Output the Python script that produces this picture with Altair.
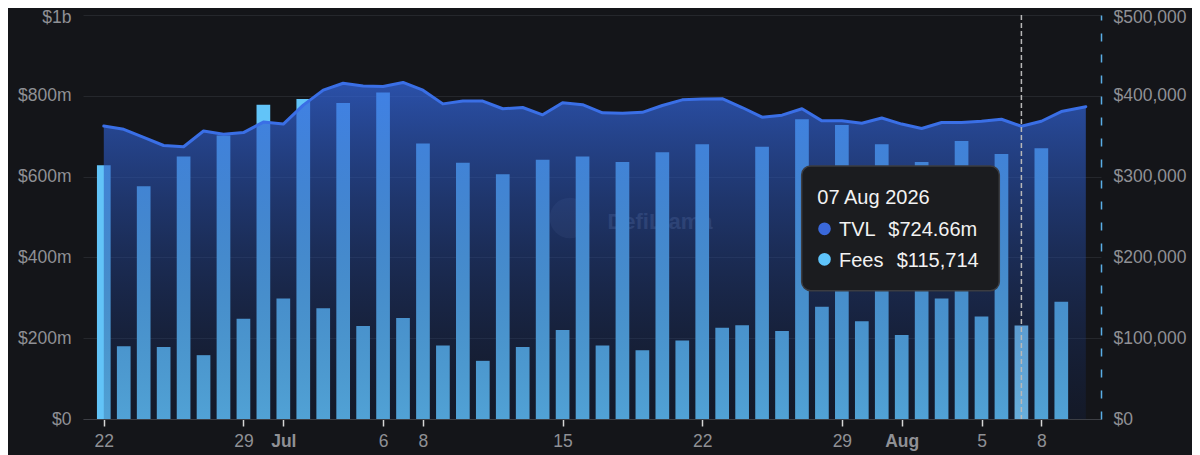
import altair as alt
import pandas as pd

# ---------------- data ----------------
start_date = "2026-06-22"
n_fee_days = 49
fee_dates = pd.date_range(start_date, periods=n_fee_days, freq="D").strftime("%Y-%m-%d").tolist()

fees = [314000, 90000, 288000, 89000, 325000, 79000, 351000, 124000, 389000, 149000,
        396000, 137000, 391000, 115000, 404000, 125000, 341000, 91000, 317000, 72000,
        303000, 89000, 321000, 110000, 325000, 91000, 318000, 85000, 330000, 97000,
        340000, 113000, 116000, 337000, 109000, 371000, 139000, 364000, 121000, 340000,
        104000, 318000, 149000, 344000, 127000, 328000, 115714, 335000, 145000]

# TVL in $ millions (last point is the partial current day)
tvl_dates = fee_dates + ["2026-08-10T05:30:00Z"]
tvl = [725, 717, 697, 677, 674, 713, 705, 709, 735, 730,
       777, 814, 831, 824, 823, 833, 814, 780, 787, 787,
       768, 771, 753, 783, 778, 758, 757, 759, 776, 790,
       792, 793, 771, 747, 752, 768, 738, 738, 732, 745,
       730, 719, 734, 734, 737, 742, 724.66, 737, 761, 773]

hover_index = 46  # 07 Aug 2026

x_tick_dates = [(2026, 6, 22), (2026, 6, 29), (2026, 7, 1), (2026, 7, 6), (2026, 7, 8),
                (2026, 7, 15), (2026, 7, 22), (2026, 7, 29), (2026, 8, 1), (2026, 8, 5),
                (2026, 8, 8)]
tvl_ticks = [0, 200, 400, 600, 800, 1000]
fee_ticks = [0, 100000, 200000, 300000, 400000, 500000]

fee_df = pd.DataFrame({"date": fee_dates, "fees": fees,
                       "hover": [i == hover_index for i in range(len(fees))]})
tvl_df = pd.DataFrame({"date": tvl_dates, "tvl": tvl})
hover_df = pd.DataFrame({"date": [fee_dates[hover_index]]})

hover_ts = pd.Timestamp(fee_dates[hover_index])
tip_date = hover_ts.strftime("%d %b %Y")
tip_tvl = f"${tvl[hover_index]:.2f}m"
tip_fee = f"${fees[hover_index]:,}"

# ---------------- styling ----------------
FONT = "Liberation Sans"
BG = "#141519"
LABEL_COLOR = "#8f9095"
W, H = 1018, 404

x_scale = alt.Scale(
    type="utc",
    domain=[alt.DateTime(year=2026, month=6, date=21, hours=5, utc=True),
            alt.DateTime(year=2026, month=8, date=10, hours=17, minutes=45, utc=True)],
)
x_axis = alt.Axis(
    values=[alt.DateTime(year=y, month=m, date=d, utc=True) for (y, m, d) in x_tick_dates],
    labelExpr="utcdate(datum.value) == 1 ? utcFormat(datum.value, '%b') : '' + utcdate(datum.value)",
    labelFontWeight={"condition": {"test": "utcdate(datum.value) == 1", "value": "bold"}, "value": "normal"},
    title=None, grid=False,
    domainColor="#3d3f45", domainWidth=1,
    tickColor="#d6d6d6", tickSize=7, tickWidth=1.5,
    labelPadding=6, labelColor=LABEL_COLOR, labelFontSize=17.5, labelFont=FONT,
)
X = alt.X("date:T", scale=x_scale, axis=x_axis)

# watermark (behind everything)
wm_text = alt.Chart(pd.DataFrame({"t": ["DefiLlama"]})).mark_text(
    font=FONT, fontSize=22, fontWeight="bold", color="#8c96aa", opacity=0.28,
    align="center", baseline="middle",
).encode(text="t:N", x=alt.value(577), y=alt.value(207))
wm_logo = alt.Chart(pd.DataFrame({"t": ["logo"]})).mark_point(
    filled=True, shape="circle", size=1650, color="#8c96aa", opacity=0.12,
).encode(x=alt.value(487), y=alt.value(203))

bars = alt.Chart(fee_df).mark_bar(size=13.7).encode(
    x=X,
    y=alt.Y("fees:Q", scale=alt.Scale(domain=[0, 500000]),
            axis=alt.Axis(orient="right", values=fee_ticks, title=None,
                          labelExpr="datum.value == 0 ? '$0' : '$' + format(datum.value, ',')",
                          labelOffset={"condition": {"test": "datum.value == 500000", "value": 2},
                                       "value": 0},
                          grid=False, ticks=False, domain=True,
                          domainColor="#5aaee6", domainDash=[8, 13], domainWidth=1.5,
                          labelPadding=12, labelColor=LABEL_COLOR, labelFontSize=17.5,
                          labelFont=FONT)),
    color=alt.condition("datum.hover", alt.value("#7fd3ff"), alt.value("#62c4f8")),
)

area = alt.Chart(tvl_df).mark_area(
    color=alt.Gradient(
        gradient="linear",
        stops=[alt.GradientStop(color="rgba(51,103,224,0.72)", offset=0),
               alt.GradientStop(color="rgba(20,40,90,0.22)", offset=1)],
        x1=1, x2=1, y1=0, y2=1,
    )
).encode(
    x=X,
    y=alt.Y("tvl:Q", scale=alt.Scale(domain=[0, 1000]),
            axis=alt.Axis(orient="left", values=tvl_ticks, title=None,
                          labelExpr="datum.value == 0 ? '$0' : datum.value >= 1000 ? '$1b' : '$' + datum.value + 'm'",
                          labelOffset={"condition": {"test": "datum.value == 1000", "value": 2},
                                       "value": 0},
                          grid=True, gridColor="#25272c", gridWidth=1,
                          ticks=False, domain=False,
                          labelPadding=12, labelColor=LABEL_COLOR, labelFontSize=17.5,
                          labelFont=FONT)),
)

line = alt.Chart(tvl_df).mark_line(color="#3a6fe6", strokeWidth=3, strokeCap="round",
                                   strokeJoin="round").encode(
    x=X,
    y=alt.Y("tvl:Q", scale=alt.Scale(domain=[0, 1000]), axis=None),
)

hover_rule = alt.Chart(hover_df).mark_rule(
    color="#b8b8b8", strokeDash=[5, 3], strokeWidth=1.5
).encode(x=X)

# tooltip overlay
tip_box = alt.Chart(pd.DataFrame({"t": ["box"]})).mark_rect(
    cornerRadius=9, fill="#1b1c1f", stroke="#3b3c41", strokeWidth=1.5,
).encode(x=alt.value(718.7), x2=alt.value(916.3), y=alt.value(151), y2=alt.value(275.7))

def tip_text(s, x, y):
    return alt.Chart(pd.DataFrame({"t": [s]})).mark_text(
        font=FONT, fontSize=20, color="#f2f2f2", align="left", baseline="alphabetic",
    ).encode(text="t:N", x=alt.value(x), y=alt.value(y))

def tip_dot(color, x, y):
    return alt.Chart(pd.DataFrame({"t": [color]})).mark_point(
        filled=True, shape="circle", size=160, color=color, opacity=1,
    ).encode(x=alt.value(x), y=alt.value(y))

tooltip = alt.layer(
    tip_box,
    tip_text(tip_date, 734.3, 189.3),
    tip_dot("#3a68da", 741.5, 213.8),
    tip_text("TVL", 756, 221),
    tip_text(tip_tvl, 805.3, 221),
    tip_dot("#5ec3fa", 741.5, 244.3),
    tip_text("Fees", 756, 251.7),
    tip_text(tip_fee, 813.7, 251.7),
)

chart = alt.layer(
    wm_logo, wm_text, bars, area, line, hover_rule, tooltip
).resolve_scale(
    y="independent"
).properties(
    width=W, height=H,
    autosize=alt.AutoSizeParams(type="none"),
    padding={"left": 75, "top": 7, "right": 91, "bottom": 36},
    background=BG,
).configure(
    font=FONT,
    view=alt.ViewConfig(stroke=None),
)

chart.save("out.html", embed_options={"renderer": "svg", "actions": False})
